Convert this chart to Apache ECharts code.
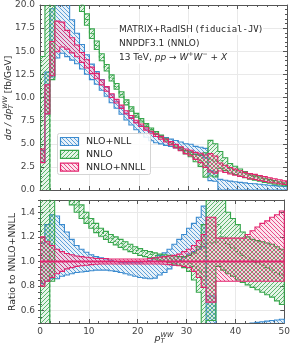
<!DOCTYPE html>
<html><head><meta charset="utf-8">
<script src="https://cdn.jsdelivr.net/npm/echarts@6/dist/echarts.min.js"></script>
<style>html,body{margin:0;padding:0;background:#fff}#c{width:293px;height:349px}</style>
</head><body><div id="c"></div>
<script>
// ---------------- data ----------------
const binEdges = [0,1,2,3,4,5,6,7,8,9,10,11,12,13,14,15,16,17,18,19,20,21,22,23,24,25,26,27,28,29,30,31,32,33,34,35,36,37,38,39,40,41,42,43,44,45,46,47,48,49,50];
const xTicks = [0,10,20,30,40,50];
const yTicksTop = [0,2.5,5,7.5,10,12.5,15,17.5,20];
const yTicksRatio = [0.6,0.8,1.0,1.2,1.4];

// NNLO+NNLL central value [fb/GeV]
const nnloNnllCentral = [3.7,9.8,14.2,16.6,16.8,16.2,15.6,15.0,14.3,13.6,
  12.9,12.3,11.6,10.9,10.2,9.6,9.0,8.4,7.9,7.4,
  7.0,6.6,6.2,5.9,5.6,5.3,5.0,4.7,4.4,4.1,
  3.9,3.6,3.4,3.1,2.9,2.7,2.45,2.25,2.05,1.9,
  1.75,1.6,1.45,1.35,1.22,1.1,1.0,0.9,0.8,0.7];

// ratios to NNLO+NNLL
const ratioNnloNnllHigh = [1.20,1.16,1.13,1.10,1.08,1.065,1.055,1.045,1.04,1.035,
  1.03,1.025,1.025,1.025,1.02,1.02,1.02,1.02,1.02,1.02,
  1.02,1.02,1.025,1.03,1.035,1.04,1.045,1.05,1.06,1.08,
  1.10,1.13,1.17,1.22,1.36,1.36,1.19,1.19,1.19,1.19,
  1.19,1.19,1.22,1.25,1.28,1.31,1.33,1.36,1.38,1.41];
const ratioNnloNnllLow = [0.80,0.84,0.87,0.90,0.92,0.94,0.95,0.96,0.965,0.97,
  0.975,0.978,0.98,0.98,0.98,0.98,0.98,0.98,0.98,0.98,
  0.98,0.98,0.98,0.98,0.98,0.978,0.975,0.97,0.965,0.96,
  0.95,0.92,0.87,0.79,0.67,0.67,0.84,0.84,0.84,0.84,
  0.84,0.84,0.84,0.84,0.84,0.84,0.84,0.84,0.84,0.84];

const ratioNnloHigh = [3.9,5,3,2.0,1.85,1.72,1.62,1.52,1.46,1.40,
  1.35,1.31,1.27,1.245,1.22,1.20,1.18,1.16,1.14,1.12,
  1.105,1.09,1.08,1.07,1.06,1.055,1.05,1.045,1.04,1.04,
  1.05,1.07,1.12,1.30,1.85,1.85,1.70,1.55,1.40,1.35,
  1.30,1.24,1.20,1.18,1.17,1.16,1.15,1.14,1.12,1.10];
const ratioNnloLow = [-3,-2,0.84,1.70,1.62,1.55,1.46,1.40,1.35,1.31,
  1.27,1.235,1.205,1.18,1.155,1.135,1.115,1.095,1.08,1.065,
  1.05,1.04,1.03,1.02,1.01,1.0,0.99,0.98,0.97,0.95,
  0.92,0.85,0.75,0.45,0.52,0.52,0.96,0.93,0.90,0.88,
  0.85,0.83,0.81,0.79,0.77,0.75,0.73,0.71,0.68,0.65];
const ratioNnloCentral = [-1,-1,2.0,1.85,1.73,1.63,1.54,1.46,1.405,1.355,
  1.31,1.27,1.235,1.21,1.185,1.165,1.145,1.125,1.11,1.09,
  1.078,1.065,1.055,1.045,1.035,1.028,1.02,1.012,1.005,0.995,
  0.985,0.96,0.93,0.85,1.15,1.15,1.30,1.20,1.14,1.11,
  1.08,1.05,1.03,1.01,0.99,0.97,0.95,0.93,0.91,0.89];

const ratioNloNllHigh = [1.15,1.30,1.38,1.37,1.30,1.24,1.18,1.13,1.10,1.075,
  1.055,1.04,1.03,1.02,1.01,1.0,0.995,0.99,0.99,0.99,
  0.99,1.0,1.01,1.03,1.05,1.07,1.10,1.14,1.18,1.22,
  1.27,1.31,1.36,1.45,0.72,0.72,0.47,0.47,0.47,0.47,
  0.47,0.48,0.49,0.50,0.505,0.51,0.515,0.52,0.525,0.53];
const ratioNloNllLow = [0.82,0.84,0.86,0.86,0.88,0.89,0.90,0.91,0.915,0.92,
  0.925,0.93,0.93,0.93,0.925,0.92,0.91,0.90,0.89,0.88,
  0.87,0.865,0.86,0.865,0.89,0.91,0.94,0.97,1.0,1.03,
  1.06,1.08,1.10,1.12,0.35,0.35,0.0,0.0,0.0,0.0,
  0.0,0.0,0.0,0.0,0.0,0.0,0.0,0.0,0.0,0.0];

// absolute bands (ratio x reference central)
const absOf = r => r.map((v, i) => v * nnloNnllCentral[i]);
const nnloNnllHigh = absOf(ratioNnloNnllHigh), nnloNnllLow = absOf(ratioNnloNnllLow);
const nnloHigh = absOf(ratioNnloHigh), nnloLow = absOf(ratioNnloLow), nnloCentral = absOf(ratioNnloCentral);
const nloNllHigh = absOf(ratioNloNllHigh), nloNllLow = absOf(ratioNloNllLow);
const ratioNnloNnllCentral = nnloNnllCentral.map(v => v / v);

// ---------------- style ----------------
const BLUE = '#3b8bcf', GREEN = '#37a64c', PINK = '#e3246f';
const FONT = '"DejaVu Sans", sans-serif';
function rgba(hex, a) {
  const n = parseInt(hex.slice(1), 16);
  return 'rgba(' + (n >> 16 & 255) + ',' + (n >> 8 & 255) + ',' + (n & 255) + ',' + a + ')';
}
function hatch(color, dir) {
  const s = 4, cv = document.createElement('canvas');
  cv.width = s; cv.height = s;
  const g = cv.getContext('2d');
  g.fillStyle = rgba(color, 0.12); g.fillRect(0, 0, s, s);
  g.strokeStyle = color; g.lineWidth = 0.8; g.beginPath();
  if (dir === 'b') {
    g.moveTo(-1, -1); g.lineTo(s + 1, s + 1);
    g.moveTo(s - 1, -1); g.lineTo(s + 1, 1);
    g.moveTo(-1, s - 1); g.lineTo(1, s + 1);
  } else {
    g.moveTo(-1, s + 1); g.lineTo(s + 1, -1);
    g.moveTo(-1, 1); g.lineTo(1, -1);
    g.moveTo(s - 1, s + 1); g.lineTo(s + 1, s - 1);
  }
  g.stroke();
  return { image: cv, repeat: 'repeat' };
}
const patBlue = hatch(BLUE, 'b'), patGreen = hatch(GREEN, 'f'), patPink = hatch(PINK, 'b');

function band(xi, yi, lo, hi, color, pat, z) {
  return {
    type: 'custom', xAxisIndex: xi, yAxisIndex: yi, clip: true, z: z, silent: true,
    data: [[0, 0]],
    renderItem: function (params, api) {
      const up = [], dn = [];
      for (let i = 0; i < lo.length; i++) {
        up.push(api.coord([binEdges[i], hi[i]]), api.coord([binEdges[i + 1], hi[i]]));
        dn.push(api.coord([binEdges[i], lo[i]]), api.coord([binEdges[i + 1], lo[i]]));
      }
      return { type: 'polygon', shape: { points: up.concat(dn.reverse()) },
        style: { fill: pat, stroke: color, lineWidth: 1.1 } };
    }
  };
}
function stepLine(xi, yi, vals, color, width, dashed, z) {
  const d = vals.map((v, i) => [binEdges[i], v]);
  d.push([binEdges[vals.length], vals[vals.length - 1]]);
  return { type: 'line', xAxisIndex: xi, yAxisIndex: yi, step: 'end', data: d, symbol: 'none',
    silent: true, z: z, clip: true,
    lineStyle: { color: color, width: width, type: dashed ? [3, 2] : 'solid' } };
}

const AX = { color: '#555', width: 1 };
const GRIDC = '#e9e9e9';
function xAx(g, pos, labels, split) {
  return { type: 'value', gridIndex: g, position: pos, min: 0, max: 50, interval: 10,
    axisLine: { show: true, onZero: false, lineStyle: AX },
    axisTick: { show: true, inside: true, length: 4, lineStyle: AX },
    minorTick: { show: true, splitNumber: 5, length: 2, lineStyle: AX },
    axisLabel: { show: labels, color: '#444', fontSize: 9, fontFamily: FONT, margin: 4 },
    splitLine: { show: split, lineStyle: { color: GRIDC, width: 1 } } };
}
function yTop(pos, labels, split) {
  return { type: 'value', gridIndex: 0, position: pos, min: 0, max: 20, interval: 2.5,
    axisLine: { show: true, onZero: false, lineStyle: AX },
    axisTick: { show: true, inside: true, length: 4, lineStyle: AX },
    minorTick: { show: true, splitNumber: 5, length: 2, lineStyle: AX },
    axisLabel: { show: labels, color: '#444', fontSize: 9, fontFamily: FONT, margin: 5,
      formatter: v => v.toFixed(1) },
    splitLine: { show: split, lineStyle: { color: GRIDC, width: 1 } } };
}
function yRatioMajor(pos, labels, split) {
  return { type: 'value', gridIndex: 1, position: pos, min: 0.5, max: 1.5, interval: 0.05,
    axisLine: { show: true, onZero: false, lineStyle: AX },
    axisTick: { show: true, inside: true, length: 4, lineStyle: AX, customValues: yTicksRatio },
    axisLabel: { show: labels, color: '#444', fontSize: 9, fontFamily: FONT, margin: 5,
      customValues: yTicksRatio, formatter: v => v.toFixed(1) },
    splitLine: { show: split, lineStyle: { color: GRIDC, width: 1 } } };
}
function yRatioMinor(pos) {
  return { type: 'value', gridIndex: 1, position: pos, min: 0.5, max: 1.5, interval: 0.05,
    axisLine: { show: false }, axisLabel: { show: false }, splitLine: { show: false },
    axisTick: { show: true, inside: true, length: 2, lineStyle: AX } };
}

// math-ish text builder
const mctx = document.createElement('canvas').getContext('2d');
function tw(t, font) { mctx.font = font; return mctx.measureText(t).width; }
function fnt(size, italic, fam) { return (italic ? 'italic ' : '') + size + 'px ' + (fam || FONT); }
function mathText(pieces, x, y, rot, anchor, color, bg) {
  let total = 0;
  const widths = pieces.map(p => {
    const w = p.stack ? Math.max(tw(p.stack[0].t, p.stack[0].f), tw(p.stack[1].t, p.stack[1].f)) : tw(p.t, p.f);
    total += w; return w;
  });
  let cx = anchor === 'center' ? -total / 2 : 0;
  const ch = [];
  if (bg) ch.push({ type: 'rect', z: 100, shape: { x: cx - 1, y: -5.5, width: total + 2, height: 11 }, style: { fill: '#fff' } });
  pieces.forEach((p, i) => {
    if (p.stack) {
      ch.push({ type: 'text', z: 101, x: cx, y: -3.6, style: { text: p.stack[0].t, font: p.stack[0].f, fill: color, align: 'left', verticalAlign: 'middle' } });
      ch.push({ type: 'text', z: 101, x: cx, y: 2.6, style: { text: p.stack[1].t, font: p.stack[1].f, fill: color, align: 'left', verticalAlign: 'middle' } });
    } else {
      ch.push({ type: 'text', z: 101, x: cx, y: p.dy || 0, style: { text: p.t, font: p.f, fill: color, align: 'left', verticalAlign: 'middle' } });
    }
    cx += widths[i];
  });
  return { type: 'group', x: x, y: y, rotation: rot || 0, children: ch, z: 100, silent: true };
}

const TXT = '#2b2b2b';
const graphics = [];
// annotations
graphics.push(mathText([
  { t: 'MATRIX+RadISH (', f: fnt(9) }, { t: 'fiducial-JV', f: fnt(9, false, '"DejaVu Sans Mono", monospace') }, { t: ')', f: fnt(9) }
], 119, 29.5, 0, 'left', TXT, true));
graphics.push(mathText([{ t: 'NNPDF3.1 (NNLO)', f: fnt(9) }], 119, 43.5, 0, 'left', TXT, true));
graphics.push(mathText([
  { t: '13 TeV, ', f: fnt(9) }, { t: 'pp', f: fnt(9, true) }, { t: ' \u2192 ', f: fnt(9) },
  { t: 'W', f: fnt(9, true) }, { t: '+', f: fnt(6.3), dy: -3.4 }, { t: 'W', f: fnt(9, true) }, { t: '\u2212', f: fnt(6.3), dy: -3.4 },
  { t: ' + ', f: fnt(9) }, { t: 'X', f: fnt(9, true) }
], 119, 58, 0, 'left', TXT, true));
// axis titles
graphics.push(mathText([
  { t: 'd\u03c3 / dp', f: fnt(9, true) },
  { stack: [{ t: 'WW', f: fnt(6.3, true) }, { t: 'T', f: fnt(6.3, true) }] },
  { t: ' [fb/GeV]', f: fnt(9) }
], 9, 98, Math.PI / 2, 'center', TXT));
graphics.push(mathText([{ t: 'Ratio to NNLO+NNLL', f: fnt(9.4) }], 13, 262, Math.PI / 2, 'center', TXT));
graphics.push(mathText([
  { t: 'p', f: fnt(9.5, true) },
  { stack: [{ t: 'WW', f: fnt(6.6, true) }, { t: 'T', f: fnt(6.6, true) }] }
], 164, 339, 0, 'center', TXT));
// legend
graphics.push({ type: 'rect', shape: { x: 57.5, y: 133.5, width: 93, height: 41, r: 2 }, z: 90, silent: true,
  style: { fill: 'rgba(255,255,255,0.85)', stroke: '#d4d4d4', lineWidth: 1 } });
const legendItems = [['NLO+NLL', BLUE, patBlue], ['NNLO', GREEN, patGreen], ['NNLO+NNLL', PINK, patPink]];
legendItems.forEach((it, k) => {
  const cy = 141.5 + k * 12.8;
  graphics.push({ type: 'rect', shape: { x: 60.5, y: cy - 4, width: 18, height: 8 }, z: 95, silent: true,
    style: { fill: it[2], stroke: it[1], lineWidth: 1.2 } });
  graphics.push({ type: 'text', x: 86, y: cy, z: 95, silent: true,
    style: { text: it[0], font: fnt(9.5), fill: TXT, align: 'left', verticalAlign: 'middle' } });
});

const option = {
  animation: false,
  backgroundColor: '#fff',
  grid: [
    { left: 40, top: 5, width: 247, height: 185, show: false },
    { left: 40, top: 200, width: 247, height: 123, show: false }
  ],
  xAxis: [xAx(0, 'bottom', false, true), xAx(0, 'top', false, false), xAx(1, 'bottom', true, true), xAx(1, 'top', false, false)],
  yAxis: [yTop('left', true, true), yTop('right', false, false),
    yRatioMajor('left', true, true), yRatioMajor('right', false, false), yRatioMinor('left'), yRatioMinor('right')],
  series: [
    band(0, 0, nloNllLow, nloNllHigh, BLUE, patBlue, 2),
    band(0, 0, nnloLow, nnloHigh, GREEN, patGreen, 3),
    stepLine(0, 0, nnloCentral, GREEN, 1, true, 3),
    band(0, 0, nnloNnllLow, nnloNnllHigh, PINK, patPink, 4),
    band(2, 2, ratioNloNllLow, ratioNloNllHigh, BLUE, patBlue, 2),
    band(2, 2, ratioNnloLow, ratioNnloHigh, GREEN, patGreen, 3),
    stepLine(2, 2, ratioNnloCentral, GREEN, 1, true, 3),
    band(2, 2, ratioNnloNnllLow, ratioNnloNnllHigh, PINK, patPink, 4),
    stepLine(2, 2, ratioNnloNnllCentral, PINK, 1.8, false, 5)
  ],
  graphic: graphics
};
const chart = echarts.init(document.getElementById('c'), null, { renderer: 'canvas' });
chart.setOption(option);
</script></body></html>
